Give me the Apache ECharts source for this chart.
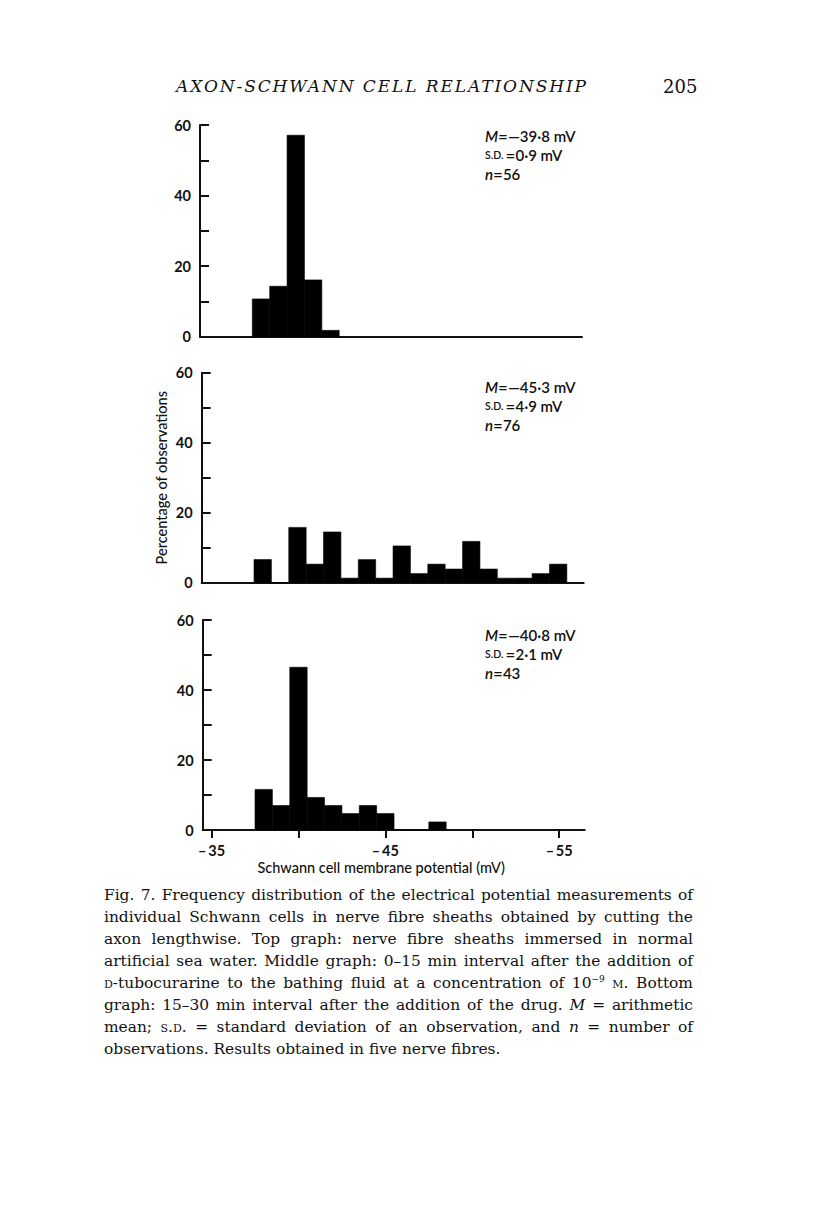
<!DOCTYPE html>
<html>
<head>
<meta charset="utf-8">
<script src="https://cdn.jsdelivr.net/npm/echarts@6/dist/echarts.min.js"></script>
<style>
  html, body { margin:0; padding:0; background:#fff; }
  #wrap { position:relative; width:816px; height:1211px; overflow:hidden; }
  #chart { position:absolute; left:0; top:0; width:816px; height:1211px; }
  .hdr { position:absolute; font-family:"DejaVu Serif","Liberation Serif",serif; color:#111; white-space:nowrap; }
  #title { left:176px; top:76px; font-size:17px; font-style:italic; }
  #page { left:663px; top:76px; font-size:18px; }
  .cap { position:absolute; left:104px; font-family:"DejaVu Serif","Liberation Serif",serif; font-size:14px; line-height:22px; color:#111; white-space:nowrap; }
  .sc { font-variant:small-caps; }
</style>
</head>
<body>
<div id="wrap">
  <div id="chart"></div>
  <div class="hdr" id="title">AXON-SCHWANN CELL RELATIONSHIP</div>
  <div class="hdr" id="page">205</div>
  <div class="cap" style="top:884px">Fig. 7. Frequency distribution of the electrical potential measurements of</div>
  <div class="cap" style="top:906px">individual Schwann cells in nerve fibre sheaths obtained by cutting the</div>
  <div class="cap" style="top:928px">axon lengthwise. Top graph: nerve fibre sheaths immersed in normal</div>
  <div class="cap" style="top:950px">artificial sea water. Middle graph: 0–15 min interval after the addition of</div>
  <div class="cap" style="top:972px"><span class="sc">d</span>-tubocurarine to the bathing fluid at a concentration of 10<sup style="font-size:9px;line-height:0">−9</sup> <span class="sc">m</span>. Bottom</div>
  <div class="cap" style="top:994px">graph: 15–30 min interval after the addition of the drug. <i>M</i> = arithmetic</div>
  <div class="cap" style="top:1016px">mean; <span class="sc">s.d.</span> = standard deviation of an observation, and <i>n</i> = number of</div>
  <div class="cap last" style="top:1038px">observations. Results obtained in five nerve fibres.</div>
</div>
<script>
// ---------------- DATA ----------------
// bin centres (mV), 1 mV wide bins
const topBins = [-38, -39, -40, -41, -42];
const topPct  = [10.7, 14.3, 57.1, 16.1, 1.8];

const midBins = [-38, -39, -40, -41, -42, -43, -44, -45, -46, -47, -48, -49, -50, -51, -52, -53, -54, -55];
const midPct  = [6.6, 0, 15.8, 5.3, 14.5, 1.3, 6.6, 1.3, 10.5, 2.6, 5.3, 3.9, 11.8, 3.9, 1.3, 1.3, 2.6, 5.3];

const botBins = [-38, -39, -40, -41, -42, -43, -44, -45, -46, -47, -48];
const botPct  = [11.6, 7.0, 46.5, 9.3, 7.0, 4.7, 7.0, 4.7, 0, 0, 2.3];

const xTickValues  = [-35, -40, -45, -50, -55];
const xLabelValues = [-35, -45, -55];
const yLabelValues = [0, 20, 40, 60];

const statM  = ['39·8', '45·3', '40·8'];
const statSD = ['0·9', '4·9', '2·1'];
const statN  = ['56', '76', '43'];

const yAxisTitle = 'Percentage of observations';
const xAxisTitle = 'Schwann cell membrane potential (mV)';

// ---------------- CHART ----------------
const X_MIN = -56.47, X_MAX = -34.49;
const INK = '#111';
const FONT = 'Lato';
const DASH = '\u2013\u2009';

const chart = echarts.init(document.getElementById('chart'), null, { renderer: 'svg' });

const grids = [
  { left: 200,   top: 125,   width: 382, height: 211.7 },
  { left: 201.7, top: 372.7, width: 382, height: 210 },
  { left: 202.7, top: 620,   width: 382, height: 210 }
];

const seriesData = [
  topBins.map((b, i) => [b, topPct[i]]),
  midBins.map((b, i) => [b, midPct[i]]),
  botBins.map((b, i) => [b, botPct[i]])
];

function renderBar(params, api) {
  const x = api.value(0), v = api.value(1);
  const p1 = api.coord([x - 0.5, v]);
  const p2 = api.coord([x + 0.5, 0]);
  const left = Math.min(p1[0], p2[0]);
  return {
    type: 'rect',
    shape: { x: left, y: p1[1], width: Math.abs(p2[0] - p1[0]), height: p2[1] - p1[1] },
    style: { fill: '#000', stroke: '#000', lineWidth: 0.6 }
  };
}

const xAxes = [0, 1, 2].map(i => ({
  type: 'value', gridIndex: i, inverse: true, min: X_MIN, max: X_MAX,
  axisLine: { show: true, onZero: false, lineStyle: { color: INK, width: 2 } },
  splitLine: { show: false },
  axisTick: { show: i === 2, customValues: xTickValues, length: 8, lineStyle: { color: INK, width: 2 } },
  axisLabel: {
    show: i === 2, customValues: xLabelValues, margin: 13,
    formatter: v => DASH + Math.abs(v),
    color: INK, fontFamily: FONT, fontSize: 14.5, fontWeight: 'bold'
  },
  name: i === 2 ? xAxisTitle : '',
  nameLocation: 'middle', nameGap: 30,
  nameTextStyle: { color: INK, fontFamily: FONT, fontSize: 14.5, fontWeight: 500, padding: [0, 25, 0, 0] }
}));

const yAxes = [0, 1, 2].map(i => ({
  type: 'value', gridIndex: i, min: 0, max: 60, interval: 10,
  axisLine: { show: true, lineStyle: { color: INK, width: 2 } },
  splitLine: { show: false },
  axisTick: { show: true, inside: true, length: 9, lineStyle: { color: INK, width: 2 } },
  axisLabel: {
    margin: 9, color: INK, fontFamily: FONT, fontSize: 14.5, fontWeight: 'bold',
    formatter: v => (yLabelValues.indexOf(v) >= 0 ? String(v) : '')
  },
  name: i === 1 ? yAxisTitle : '',
  nameLocation: 'middle', nameGap: 33, nameRotate: 90,
  nameTextStyle: { color: INK, fontFamily: FONT, fontSize: 14.5, fontWeight: 500 }
}));

const statY = [[136, 155, 174], [387, 406, 425], [635, 654, 673]];
const LH = 15;
const RICH = {
  i:  { fontStyle: 'italic', fontFamily: FONT, fontSize: 15, fontWeight: 600, fill: INK, lineHeight: LH },
  eq: { fontFamily: FONT, fontSize: 17, fontWeight: 400, fill: INK, lineHeight: LH },
  d:  { fontFamily: FONT, fontSize: 15, fontWeight: 600, fill: INK, lineHeight: LH },
  sc: { fontFamily: FONT, fontSize: 10.5, fontWeight: 600, fill: INK, lineHeight: LH }
};
const graphics = [];
for (let i = 0; i < 3; i++) {
  const lines = [
    '{i|M}{eq|=}{d|\u2014' + statM[i] + ' mV}',
    '{sc|S.D.}{eq|\u2009=}{d|' + statSD[i] + ' mV}',
    '{i|n}{eq|=}{d|' + statN[i] + '}'
  ];
  lines.forEach((t, k) => {
    graphics.push({
      type: 'text', x: 485, y: statY[i][k],
      style: {
        text: t, fill: INK, verticalAlign: 'middle', lineHeight: LH,
        fontFamily: FONT, fontSize: 15, fontWeight: 600, rich: RICH
      }
    });
  });
}

chart.setOption({
  animation: false,
  grid: grids,
  xAxis: xAxes,
  yAxis: yAxes,
  series: [0, 1, 2].map(i => ({
    type: 'custom', xAxisIndex: i, yAxisIndex: i,
    data: seriesData[i], renderItem: renderBar,
    encode: { x: 0, y: 1 }, silent: true
  })),
  graphic: graphics
});

// fit header width (letter spacing only)
(function () {
  const t = document.getElementById('title');
  const target = 410;
  const w = t.getBoundingClientRect().width;
  const n = t.textContent.length;
  t.style.letterSpacing = ((target - w) / (n - 1)) + 'px';
})();

// caption: common font size so the widest line fits, then justify with word spacing
(function () {
  const W = 589;
  const caps = Array.from(document.querySelectorAll('.cap'));
  let maxW = 0;
  caps.forEach(c => { maxW = Math.max(maxW, c.getBoundingClientRect().width); });
  const fs = Math.min(15.5, 14 * (W - 12) / maxW);
  caps.forEach(c => { c.style.fontSize = fs + 'px'; });
  caps.forEach(c => {
    if (c.classList.contains('last')) return;
    const w = c.getBoundingClientRect().width;
    const spaces = (c.textContent.match(/ /g) || []).length;
    if (spaces > 0) c.style.wordSpacing = ((W - w) / spaces) + 'px';
  });
})();
</script>
</body>
</html>
